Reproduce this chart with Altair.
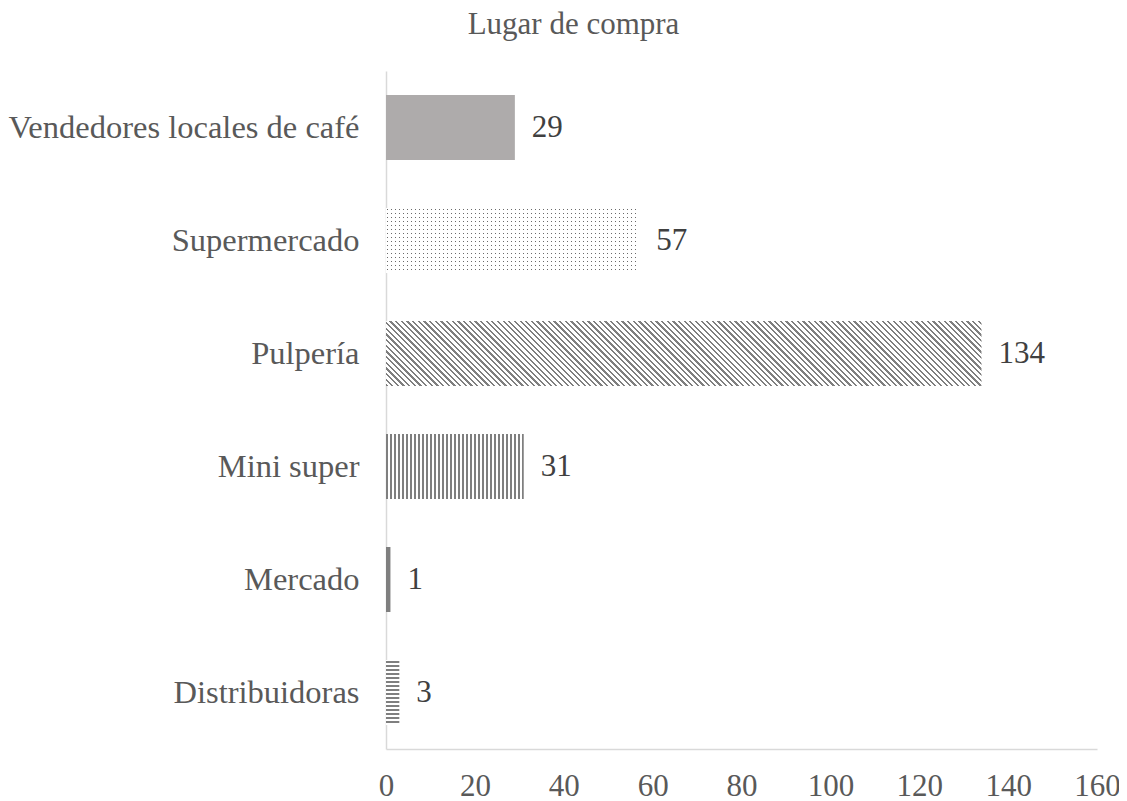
import math
import altair as alt
import pandas as pd

# ---- data ----
categories = ["Vendedores locales de café", "Supermercado", "Pulpería",
              "Mini super", "Mercado", "Distribuidoras"]
values = [29, 57, 134, 31, 1, 3]
x_ticks = [0, 20, 40, 60, 80, 100, 120, 140, 160]
chart_title = "Lugar de compra"

df = pd.DataFrame({"lugar": categories, "n": values})

# ---- layout / style ----
W, H = 711, 678
XMAX = 160
PX = W / XMAX
PAD_INNER = 0.425
STEP = H / 6
BAR_H = STEP * (1 - PAD_INNER)
FONT = "Liberation Serif"
TXT = "#595959"
GRAY = "#7f7f7f"
WHITE = "#ffffff"
CLEAR = "rgba(255,255,255,0)"


def stripe_stops(length, period, width, fg, bg, start=0.0):
    stops = [{"offset": 0.0, "color": bg}]
    n = int(math.ceil(length / period)) + 1
    for i in range(n):
        s = (i * period + start) / length
        e = s + width / length
        if s >= 1:
            break
        e = min(e, 1.0)
        stops += [{"offset": s, "color": bg}, {"offset": s, "color": fg},
                  {"offset": e, "color": fg}, {"offset": e, "color": bg}]
    stops.append({"offset": 1.0, "color": bg})
    return stops


def vertical(wpx, period, width, fg=GRAY, bg=WHITE, start=0.0):
    return alt.LinearGradient(gradient="linear", x1=0, y1=0, x2=1, y2=0,
                              stops=stripe_stops(wpx, period, width, fg, bg, start))


def horizontal(hpx, period, width, fg=GRAY, bg=WHITE, start=0.0):
    return alt.LinearGradient(gradient="linear", x1=0, y1=0, x2=0, y2=1,
                              stops=stripe_stops(hpx, period, width, fg, bg, start))


def diagonal(wpx, hpx, period, width, fg=GRAY, bg=WHITE):
    r = hpx / wpx
    k = (1 + r) / (1 + r * r)
    length = (wpx + hpx) / math.sqrt(2)
    return alt.LinearGradient(gradient="linear", x1=0, y1=1, x2=k, y2=1 - k * r,
                              stops=stripe_stops(length, period, width, fg, bg))


def bw(cat):
    return values[categories.index(cat)] * PX


fills = {
    "Vendedores locales de café": ["#aeabab"],
    "Supermercado": [vertical(bw("Supermercado"), 4, 1, fg="#6a6a6a", start=1),
                     horizontal(BAR_H, 4, 1, fg=CLEAR, bg=WHITE, start=1)],
    "Pulpería": [diagonal(bw("Pulpería"), BAR_H, 4, 1.6)],
    "Mini super": [vertical(bw("Mini super"), 4, 2)],
    "Mercado": [GRAY],
    "Distribuidoras": [horizontal(BAR_H, 4, 2, start=1)],
}

x_axis = alt.Axis(values=x_ticks, title=None, grid=False, ticks=False,
                  tickSize=0, labelFont=FONT, labelFontSize=31, labelFlush=False,
                  labelColor=TXT, labelPadding=22, domainColor="#d9d9d9",
                  domainWidth=1.5)
y_axis = alt.Axis(title=None, grid=False, ticks=False, tickSize=0,
                  labelFont=FONT, labelFontSize=32.5, labelColor=TXT,
                  labelPadding=27, labelLimit=400,
                  domainColor="#d9d9d9", domainWidth=1.5)
x_scale = alt.Scale(domain=[0, XMAX], nice=False)
y_scale = alt.Scale(domain=categories, paddingInner=PAD_INNER,
                    paddingOuter=PAD_INNER / 2)
x_enc = alt.X("n:Q", scale=x_scale, axis=x_axis)
y_enc = alt.Y("lugar:N", scale=y_scale, sort=categories, axis=y_axis)

base = alt.Chart(df)
layers = []
for cat in categories:
    for f in fills[cat]:
        layers.append(
            base.transform_filter(alt.datum.lugar == cat)
            .mark_bar(color=f, strokeWidth=0)
            .encode(x=x_enc, y=y_enc)
        )

labels = base.mark_text(align="left", baseline="middle", dx=17, font=FONT,
                        fontSize=31, color="#404040").encode(
    x=x_enc, y=y_enc, text="n:Q")
layers.append(labels)

chart = alt.layer(*layers).properties(
    width=W, height=H,
    title=alt.TitleParams(chart_title, font=FONT, fontSize=31, fontWeight="normal",
                          color=TXT, anchor="middle", baseline="alphabetic",
                          offset=6, dx=-168),
    autosize=alt.AutoSizeParams(type="none"),
    padding={"left": 378, "top": 63, "right": 22, "bottom": 50},
).configure_view(stroke=None)

chart.save("out.html", embed_options={"renderer": "svg", "actions": False})
